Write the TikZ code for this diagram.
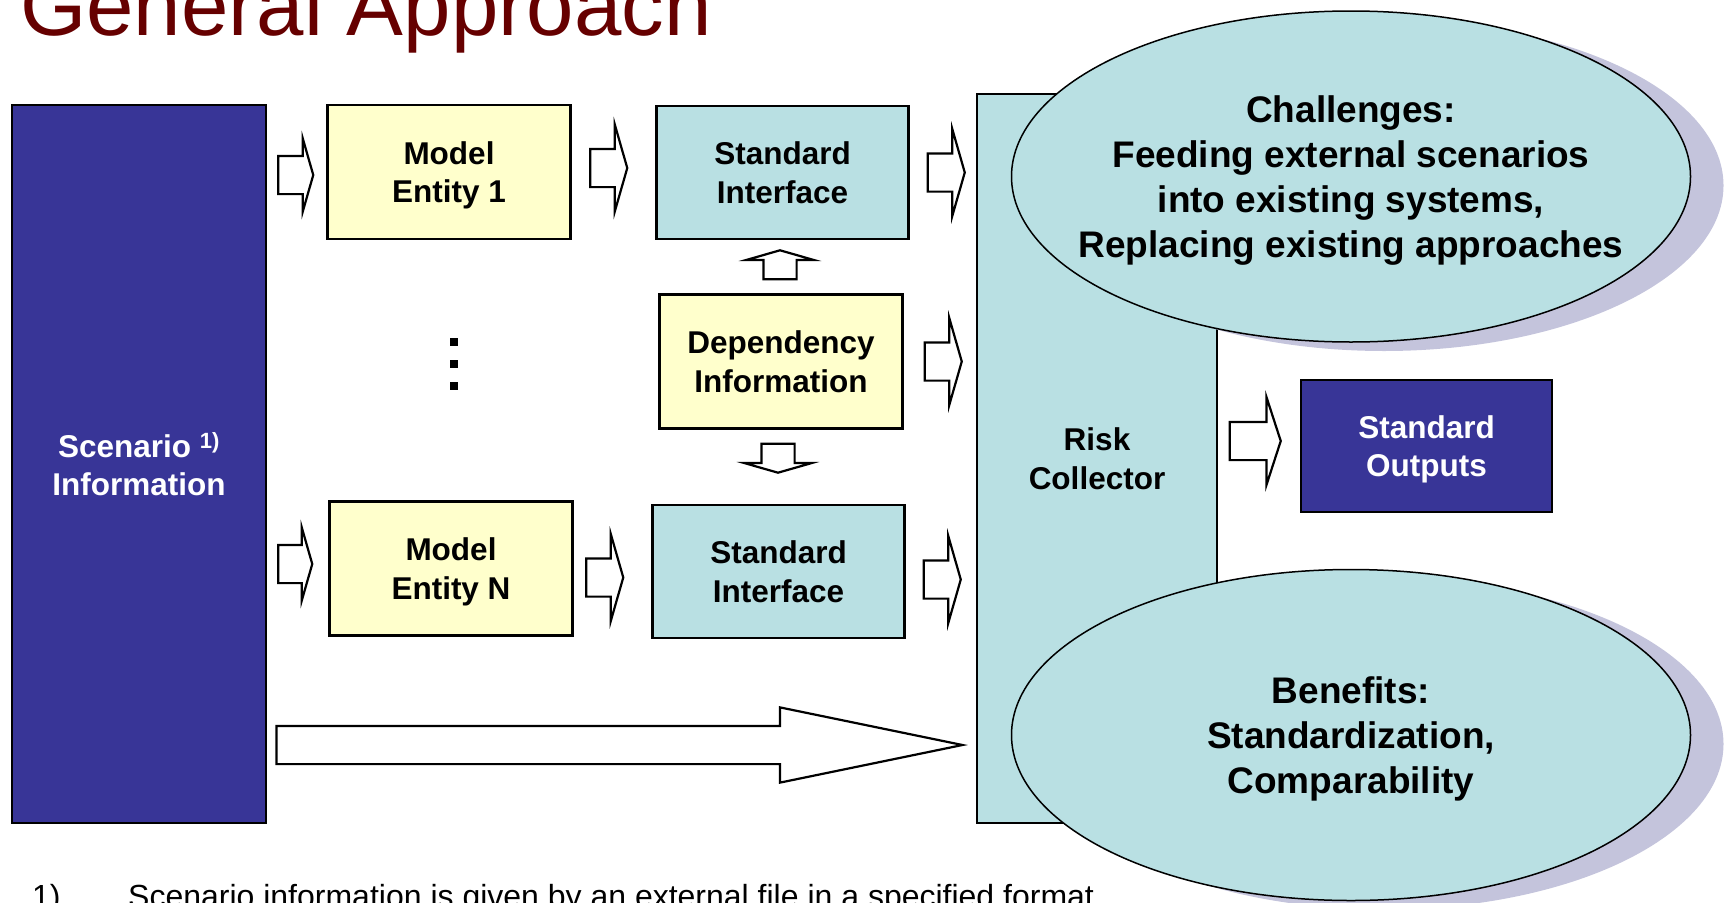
\documentclass[tikz,border=0pt]{standalone}
\usepackage{fontspec}
\setmainfont{Liberation Sans}
\usetikzlibrary{calc,shapes.geometric,shapes.arrows,shadows}
\definecolor{deepblue}{HTML}{383597}
\definecolor{paleyellow}{HTML}{FFFFCC}
\definecolor{palecyan}{HTML}{B9E0E3}
\definecolor{shadowblue}{HTML}{C4C4DC}
\definecolor{titlered}{HTML}{660000}

\begin{document}
\begin{tikzpicture}[x=1pt,y=-1pt,
    box/.style={draw, line width=2.2pt, inner sep=0pt, align=center, text depth=0pt,
      font=\bfseries\fontsize{31.5}{38.5}\selectfont},
    model/.style={box, fill=paleyellow, minimum width=243pt, minimum height=134pt},
    iface/.style={box, fill=palecyan, minimum width=252pt, minimum height=133pt},
    darkbox/.style={box, fill=deepblue, text=white},
    barrow/.style={single arrow, draw, fill=white, line width=2.2pt,
      inner xsep=0pt, inner ysep=18pt, minimum width=0pt, minimum height=37pt,
      single arrow head extend=24.5pt, single arrow tip angle=148},
    varrow/.style={inner ysep=15.5pt, minimum height=29pt, single arrow head extend=17pt},
    bubble/.style={ellipse, draw, line width=1.5pt, fill=palecyan, inner sep=0pt,
      minimum width=679pt, minimum height=331pt,
      drop shadow={shadow xshift=33pt, shadow yshift=-9pt, fill=shadowblue, opacity=1}},
    bubbletext/.style={align=center, yshift=-4pt, font=\bfseries\fontsize{37}{45}\selectfont}]
  \useasboundingbox (0,0) rectangle (1728,902);

  % boxes
  \node[darkbox, minimum width=254pt, minimum height=718pt] (scen) at (139,464)
    {Scenario \textsuperscript{1)}\\Information};
  \node[model] (me1) at (449,172) {Model\\Entity 1};
  \node[iface] (si1) at (782.5,172.5) {Standard\\Interface};
  \node[model] (dep) at (781,361.5) {Dependency\\Information};
  \node[model] (meN) at (451,568.5) {Model\\Entity N};
  \node[iface] (siN) at (778.5,571.5) {Standard\\Interface};
  \node[box, fill=palecyan, minimum width=240pt, minimum height=729pt] (rc) at (1097,458.5)
    {Risk\\Collector};
  \node[darkbox, minimum width=251pt, minimum height=132pt] (so) at (1426.5,446)
    {Standard\\Outputs};
  \foreach \i/\y in {1/342,2/364,3/386}
    \node[fill, inner sep=0pt, minimum size=8.5pt] (dot\i) at (454,\y) {};

  % block arrows
  \coordinate (lane) at (0,745);
  \node[barrow, minimum height=35pt, single arrow head extend=17.5pt,
    xshift=-12pt, yshift=-3pt, anchor=tip] (a1) at (me1.west) {};
  \node[barrow, xshift=-27pt, yshift=4.5pt, anchor=tip] (a2) at (si1.west) {};
  \node[barrow, xshift=-10pt, anchor=tip] (a3) at (rc.west |- si1) {};
  \node[barrow, xshift=-13pt, anchor=tip] (a4) at (rc.west |- dep) {};
  \node[barrow, xshift=-14pt, yshift=-8pt, anchor=tip] (a5) at (rc.west |- siN) {};
  \node[barrow, minimum height=34pt, single arrow head extend=17.5pt,
    xshift=-15pt, yshift=4.5pt, anchor=tip] (a6) at (meN.west) {};
  \node[barrow, xshift=-27pt, yshift=-6pt, anchor=tip] (a7) at (siN.west) {};
  \node[barrow, varrow, xshift=-1pt, yshift=13pt, rotate=90, anchor=tail] (a8) at (dep.north) {};
  \node[barrow, varrow, xshift=-3pt, yshift=-13pt, rotate=-90, anchor=tail] (a9) at (dep.south) {};
  \node[barrow, minimum height=51pt, single arrow tip angle=144,
    xshift=-18pt, yshift=5pt, anchor=tip] (a10) at (so.west) {};
  \node[barrow, minimum height=686pt, single arrow head extend=18.5pt,
    single arrow tip angle=23.3, xshift=-8pt, anchor=tip] (big) at (rc.west |- lane) {};

  % ellipses
  \node[bubble] (chal) at (1351,176.5) {};
  \node[bubbletext] (chaltext) at (chal)
    {Challenges:\\Feeding external scenarios\\into existing systems,\\Replacing existing approaches};
  \node[bubble] (bene) at (1351,735) {};
  \node[bubbletext] (benetext) at (bene) {Benefits:\\Standardization,\\Comparability};

  % title and footnote
  \node[anchor=base west, inner sep=0pt, text=titlered, font=\fontsize{85.2}{100}\selectfont]
    (title) at (20,35) {General Approach};
  \node[anchor=base west, inner sep=0pt, font=\fontsize{32}{38}\selectfont] (fnmark)
    at (32,907) {1)};
  \node[anchor=base west, inner sep=0pt, font=\fontsize{32}{38}\selectfont] (fntext)
    at (128,907) {Scenario information is given by an external file in a specified format};
\end{tikzpicture}
\end{document}
